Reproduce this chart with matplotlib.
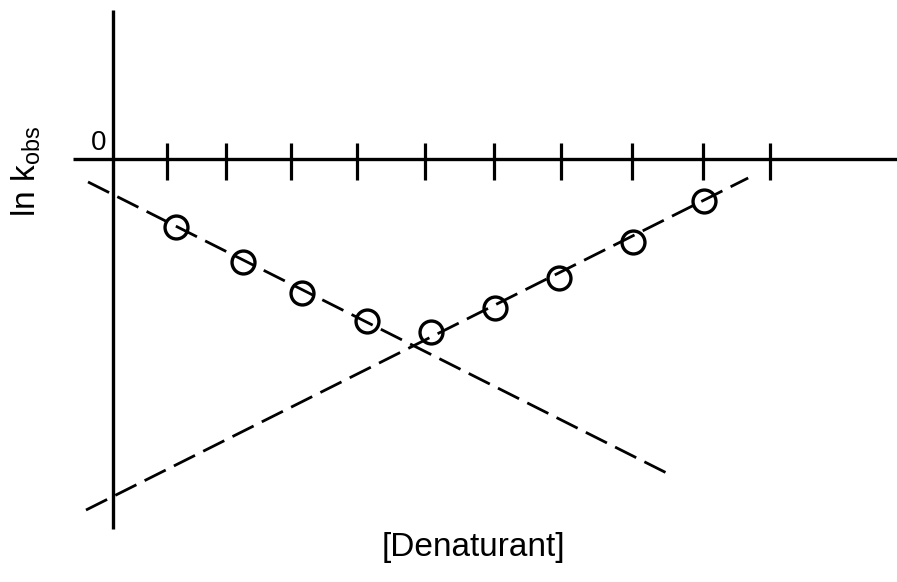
import numpy as np
import matplotlib
matplotlib.use("Agg")
import matplotlib.pyplot as plt

plt.rcParams['font.family'] = ['Liberation Sans', 'DejaVu Sans']
plt.rcParams['mathtext.fontset'] = 'custom'
plt.rcParams['mathtext.rm'] = 'Liberation Sans'
plt.rcParams['mathtext.it'] = 'Liberation Sans'

# Chevron plot data: ln k_obs versus denaturant concentration
denaturant = [0.93, 1.93, 2.80, 3.76, 4.71, 5.66, 6.61, 7.70, 8.76]
ln_kobs = [-1.01, -1.53, -1.99, -2.40, -2.56, -2.21, -1.76, -1.23, -0.62]

# tick marks along the concentration axis
tick_x = [0.80, 1.67, 2.63, 3.61, 4.62, 5.64, 6.64, 7.69, 8.74, 9.73]

# linear limbs: folding (descending) and unfolding (ascending)
fold_slope, fold_icpt = -0.503, -0.526
fold_x = [-0.37, 8.24]
unfold_slope, unfold_icpt = 0.5015, -5.0
unfold_x = [-0.40, 9.41]

fig = plt.figure(figsize=(8.97, 5.82), dpi=100)
ax = fig.add_axes([0, 0, 1, 1])
ax.set_xlim(-1.674, 11.615)
ax.set_ylim(-6.267, 2.356)
ax.axis('off')

# axes drawn by hand
ax.plot([0, 0], [-5.48, 2.21], color='black', lw=2.4, solid_capstyle='butt')
ax.plot([-0.59, 11.7], [0, 0], color='black', lw=2.4, solid_capstyle='butt')
for t in tick_x:
    ax.plot([t, t], [-0.311, 0.237], color='black', lw=2.3, solid_capstyle='butt')

# dashed fits
fx = np.array(fold_x)
ux = np.array(unfold_x)
ax.plot(fx, fold_slope * fx + fold_icpt, color='black', lw=2.0,
        dashes=(8.5, 3.3))
ax.plot(ux, unfold_slope * ux + unfold_icpt, color='black', lw=2.0,
        dashes=(8.5, 3.3))

# measured rates
ax.plot(denaturant, ln_kobs, 'o', ms=16.5, mfc='none', mec='black', mew=2.4,
        zorder=5)

ax.text(-0.21, 0.24, '0', fontsize=20, ha='center', va='center')
fig.text(0.029, 0.706, r'$\mathrm{ln\ k_{obs}}$', fontsize=24, rotation=90,
         ha='center', va='center')
fig.text(0.528, 0.060, '[Denaturant]', fontsize=24, ha='center', va='center')

fig.savefig('out.png', dpi=100)
